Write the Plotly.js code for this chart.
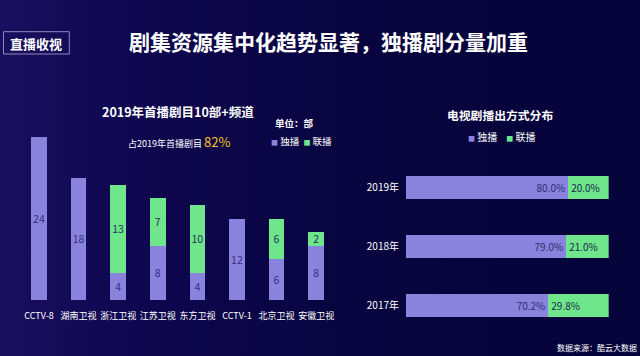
<!DOCTYPE html>
<html>
<head>
<meta charset="utf-8">
<script src="https://cdn.plot.ly/plotly-3.0.1.min.js"></script>
<style>
html,body{margin:0;padding:0;width:640px;height:356px;overflow:hidden;}
body{background:linear-gradient(90deg,#1a0f5e 0%,#0f0750 20%,#08043f 55%,#05033a 100%);}
#chart{width:640px;height:356px;}
</style>
</head>
<body>
<div id="chart"></div>
<script>
// Left chart: 2019 premiere dramas by channel
const channels = ['CCTV-8','湖南卫视','浙江卫视','江苏卫视','东方卫视','CCTV-1','北京卫视','安徽卫视'];
const exclusiveCounts = [24, 18, 4, 8, 4, 12, 6, 8];
const jointCounts = [null, null, 13, 7, 10, null, 6, 2];

// Right chart: broadcast mode distribution
const years = ['2017年','2018年','2019年'];
const exclusiveShare = [70.2, 79.0, 80.0];
const jointShare = [29.8, 21.0, 20.0];

const seriesNames = ['独播','联播'];
const PURPLE = '#8a83dd', GREEN = '#6fe58c';
const FONT = '"Noto Sans CJK SC", "Noto Sans", sans-serif';

const traces = [
  {type:'bar', x:channels, y:exclusiveCounts, name:seriesNames[0], xaxis:'x', yaxis:'y',
   marker:{color:PURPLE}, texttemplate:'%{y}', textposition:'inside', insidetextanchor:'middle', textangle:0,
   textfont:{color:'#352f80', size:10.5, family:FONT}, constraintext:'none', hoverinfo:'skip'},
  {type:'bar', x:channels, y:jointCounts, name:seriesNames[1], xaxis:'x', yaxis:'y',
   marker:{color:GREEN}, texttemplate:'%{y}', textposition:'inside', insidetextanchor:'middle', textangle:0,
   textfont:{color:'#253455', size:10.5, family:FONT}, constraintext:'none', hoverinfo:'skip'},
  {type:'bar', orientation:'h', y:years, x:exclusiveShare, name:seriesNames[0], xaxis:'x2', yaxis:'y2',
   marker:{color:PURPLE}, texttemplate:'%{x:.1f}%', textposition:'inside', insidetextanchor:'end', textangle:0,
   textfont:{color:'#2e2a72', size:10, family:FONT}, constraintext:'none', hoverinfo:'skip'},
  {type:'bar', orientation:'h', y:years, x:jointShare, name:seriesNames[1], xaxis:'x2', yaxis:'y2',
   marker:{color:GREEN}, texttemplate:'%{x:.1f}%', textposition:'inside', insidetextanchor:'start', textangle:0,
   textfont:{color:'#1b2a4a', size:10, family:FONT}, constraintext:'none', hoverinfo:'skip'}
];

function py(p){return 1 - p/356;}
function px(p){return p/640;}

const layout = {
  width:640, height:356,
  margin:{l:0,r:0,t:0,b:0,pad:0},
  paper_bgcolor:'rgba(0,0,0,0)', plot_bgcolor:'rgba(0,0,0,0)',
  font:{family:FONT, color:'#ffffff'},
  showlegend:false,
  barmode:'stack', bargap:0.61,
  xaxis:{domain:[px(19.2), px(336)], type:'category', showgrid:false, zeroline:false, showline:false,
    ticks:'', tickangle:0, tickfont:{size:9, color:'#ffffff', family:FONT}, ticklabelstandoff:9, fixedrange:true},
  yaxis:{domain:[py(300), py(137)], range:[0,24], visible:false, fixedrange:true},
  xaxis2:{domain:[px(406), px(608.7)], range:[0,100], visible:false, anchor:'y2', fixedrange:true},
  yaxis2:{domain:[py(335.2), py(158.2)], type:'category', anchor:'x2', showgrid:false, zeroline:false,
    showline:false, ticks:'', tickfont:{size:10, color:'#ffffff', family:FONT}, ticklabelstandoff:6, fixedrange:true},
  shapes:[
    {type:'rect', xref:'paper', yref:'paper', x0:px(3.5), x1:px(69.3), y0:py(54), y1:py(31.7),
     line:{color:'#8f88c0', width:1}, fillcolor:'rgba(0,0,0,0)'}
  ],
  annotations:[
    {text:'<b>直播收视</b>', xref:'paper', yref:'paper', x:px(36.4), y:py(43.3), showarrow:false,
     xanchor:'center', yanchor:'middle', font:{size:13, color:'#ffffff'}},
    {text:'<b>剧集资源集中化趋势显著，独播剧分量加重</b>', xref:'paper', yref:'paper', x:px(328.7), y:py(41),
     showarrow:false, xanchor:'center', yanchor:'middle', font:{size:21, color:'#ffffff'}},
    {text:'<b>2019年首播剧目10部+频道</b>', xref:'paper', yref:'paper', x:px(178), y:py(111),
     showarrow:false, xanchor:'center', yanchor:'middle', font:{size:12.5, color:'#ffffff'}},
    {text:'<b>单位：部</b>', xref:'paper', yref:'paper', x:px(294), y:py(123.3),
     showarrow:false, xanchor:'center', yanchor:'middle', font:{size:9.5, color:'#ffffff'}},
    {text:'占2019年首播剧目 <span style="color:#f5c518;font-size:13px">82%</span>', xref:'paper', yref:'paper',
     x:px(179), y:py(141), showarrow:false, xanchor:'center', yanchor:'middle', font:{size:9, color:'#ffffff'}},
    {text:'<span style="color:'+PURPLE+';font-size:7px">■</span> '+seriesNames[0]+'  <span style="color:'+GREEN+';font-size:7px">■</span> '+seriesNames[1],
     xref:'paper', yref:'paper', x:px(301), y:py(141), showarrow:false, xanchor:'center', yanchor:'middle',
     font:{size:9.5, color:'#ffffff'}},
    {text:'<b>电视剧播出方式分布</b>', xref:'paper', yref:'paper', x:px(500), y:py(114),
     showarrow:false, xanchor:'center', yanchor:'middle', font:{size:11.8, color:'#ffffff'}},
    {text:'<span style="color:'+PURPLE+';font-size:7px">■</span> '+seriesNames[0]+'    <span style="color:'+GREEN+';font-size:7px">■</span> '+seriesNames[1],
     xref:'paper', yref:'paper', x:px(501), y:py(136.7), showarrow:false, xanchor:'center', yanchor:'middle',
     font:{size:10, color:'#ffffff'}},
    {text:'数据来源：酷云大数据', xref:'paper', yref:'paper', x:px(639), y:py(347),
     showarrow:false, xanchor:'right', yanchor:'middle', font:{size:8, color:'#ffffff'}}
  ]
};

Plotly.newPlot('chart', traces, layout, {staticPlot:true, displayModeBar:false});
</script>
</body>
</html>
